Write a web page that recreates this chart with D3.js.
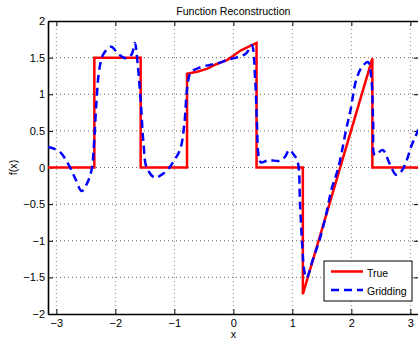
<!DOCTYPE html>
<html>
<head>
<meta charset="utf-8">
<script src="https://cdn.jsdelivr.net/npm/d3@7"></script>
<style>
  body { margin: 0; background: #fff; }
  text { font-family: "Liberation Sans", Arial, Helvetica, sans-serif; }
</style>
</head>
<body>
<div class="chart"></div>
<script>
// true function (piecewise), x and y
const trueX = [-3.1416, -2.356, -2.356, -1.571, -1.571, -0.785, -0.785, -0.6, -0.44, -0.29, -0.1, 0.13, 0.393, 0.393, 1.178, 1.178, 2.356, 2.356, 3.1416];
const trueY = [0, 0, 1.5, 1.5, 0, 0, 1.28, 1.31, 1.35, 1.41, 1.47, 1.60, 1.70, 0, 0, -1.73, 1.49, 0, 0];

// gridding reconstruction
const gridX = [-3.14, -2.95, -2.80, -2.68, -2.57, -2.47, -2.40, -2.36, -2.32, -2.27, -2.20, -2.07, -1.95, -1.81, -1.72, -1.67, -1.62, -1.57, -1.52, -1.47, -1.33, -1.22, -1.10, -1.00, -0.90, -0.83, -0.78, -0.72, -0.55, -0.40, -0.27, -0.10, 0.05, 0.22, 0.31, 0.37, 0.40, 0.43, 0.47, 0.60, 0.78, 0.87, 0.95, 1.02, 1.09, 1.13, 1.17, 1.20, 1.24, 1.35, 1.46, 1.57, 1.66, 1.78, 1.91, 1.99, 2.08, 2.17, 2.28, 2.34, 2.37, 2.40, 2.53, 2.65, 2.76, 2.85, 2.93, 3.02, 3.14];
const gridY = [0.28, 0.22, 0.05, -0.15, -0.32, -0.20, -0.02, 0.35, 0.90, 1.35, 1.55, 1.65, 1.55, 1.49, 1.55, 1.70, 1.40, 0.90, 0.30, 0.00, -0.14, -0.10, -0.02, 0.10, 0.25, 0.60, 1.10, 1.30, 1.37, 1.40, 1.42, 1.47, 1.50, 1.56, 1.67, 1.20, 0.60, 0.15, 0.07, 0.10, 0.09, 0.14, 0.24, 0.18, 0.08, -0.50, -1.10, -1.40, -1.51, -1.25, -0.99, -0.65, -0.31, 0.00, 0.51, 0.80, 1.19, 1.36, 1.44, 1.20, 0.60, 0.17, 0.24, 0.05, -0.10, -0.05, 0.08, 0.30, 0.52];

const xTicks = [-3, -2, -1, 0, 1, 2, 3];
const yTicks = [-2, -1.5, -1, -0.5, 0, 0.5, 1, 1.5, 2];
const seriesNames = ["True", "Gridding"];

const width = 418, height = 340;
const plotLeft = 48, plotTop = 21, plotBottom = 314, plotRight = plotLeft + 2 * Math.PI * 59;

const x = d3.scaleLinear().domain([-Math.PI, Math.PI]).range([plotLeft, plotRight]);
const y = d3.scaleLinear().domain([-2, 2]).range([plotBottom, plotTop]);

const svg = d3.select('.chart')
    .append('svg')
    .attr('width', width)
    .attr('height', height);

const fmt = d => (d < 0 ? "\u2212" : "") + Math.abs(d);

// grid
svg.append('g')
    .selectAll('line')
    .data(xTicks)
    .enter()
    .append('line')
        .attr('x1', d => x(d)).attr('x2', d => x(d))
        .attr('y1', plotTop).attr('y2', plotBottom)
        .attr('stroke', '#888').attr('stroke-width', 1)
        .attr('stroke-dasharray', '1,3');
svg.append('g')
    .selectAll('line')
    .data(yTicks.filter(d => d > -2 && d < 2))
    .enter()
    .append('line')
        .attr('x1', plotLeft).attr('x2', plotRight)
        .attr('y1', d => y(d)).attr('y2', d => y(d))
        .attr('stroke', '#666').attr('stroke-width', 1)
        .attr('stroke-dasharray', '1,3');

// axes
const xAxis = svg.append('g')
    .attr('transform', `translate(0,${plotBottom})`)
    .call(d3.axisBottom(x).tickValues(xTicks).tickSizeInner(-5).tickSizeOuter(0).tickPadding(5).tickFormat(fmt));
const xTop = svg.append('g')
    .attr('transform', `translate(0,${plotTop})`)
    .call(d3.axisTop(x).tickValues(xTicks).tickSizeInner(-5).tickSizeOuter(0).tickFormat(''));
const yAxis = svg.append('g')
    .attr('transform', `translate(${plotLeft},0)`)
    .call(d3.axisLeft(y).tickValues(yTicks).tickSizeInner(-5).tickSizeOuter(0).tickPadding(3).tickFormat(fmt));
const yRight = svg.append('g')
    .attr('transform', `translate(${plotRight},0)`)
    .call(d3.axisRight(y).tickValues(yTicks).tickSizeInner(-5).tickSizeOuter(0).tickFormat(''));

[xAxis, xTop, yAxis, yRight].forEach(g => {
    g.select('.domain').attr('stroke', '#000').attr('stroke-width', 1.6);
    g.selectAll('.tick line').attr('stroke', '#000').attr('stroke-width', 1);
    g.selectAll('.tick text').attr('font-size', '11px').attr('fill', '#000')
        .style('font-family', '"Liberation Sans", Arial, sans-serif');
});

// curves
const line = d3.line().x(d => x(d[0])).y(d => y(d[1]));
svg.append('path')
    .datum(d3.zip(trueX, trueY))
    .attr('d', line)
    .attr('fill', 'none')
    .attr('stroke', '#ff0000')
    .attr('stroke-width', 2.5)
    .attr('stroke-linejoin', 'miter');
svg.append('path')
    .datum(d3.zip(gridX, gridY))
    .attr('d', line.curve(d3.curveCatmullRom))
    .attr('fill', 'none')
    .attr('stroke', '#0000ff')
    .attr('stroke-width', 2.5)
    .attr('stroke-dasharray', '8,5');

// labels
svg.append('text')
    .attr('x', (plotLeft + plotRight) / 2).attr('y', 15)
    .attr('text-anchor', 'middle').attr('font-size', '10.6px')
    .text('Function Reconstruction');
svg.append('text')
    .attr('x', (plotLeft + plotRight) / 2).attr('y', 338)
    .attr('text-anchor', 'middle').attr('font-size', '10.6px')
    .text('x');
svg.append('text')
    .attr('transform', `translate(17,${y(0)}) rotate(-90)`)
    .attr('text-anchor', 'middle').attr('font-size', '10.6px')
    .text('f(x)');

// legend
const lg = svg.append('g').attr('transform', 'translate(324,261)');
lg.append('rect')
    .attr('width', 88).attr('height', 40)
    .attr('fill', '#fff').attr('stroke', '#000').attr('stroke-width', 1);
lg.selectAll('line')
    .data(seriesNames)
    .enter()
    .append('line')
        .attr('x1', 7).attr('x2', 39)
        .attr('y1', (d, i) => 10.5 + i * 18.5).attr('y2', (d, i) => 10.5 + i * 18.5)
        .attr('stroke', (d, i) => i === 0 ? '#ff0000' : '#0000ff')
        .attr('stroke-width', 2.5)
        .attr('stroke-dasharray', (d, i) => i === 0 ? null : '8,5');
lg.selectAll('text')
    .data(seriesNames)
    .enter()
    .append('text')
        .attr('x', 43).attr('y', (d, i) => 16 + i * 18)
        .attr('font-size', '10.5px')
        .text(d => d);
</script>
</body>
</html>
